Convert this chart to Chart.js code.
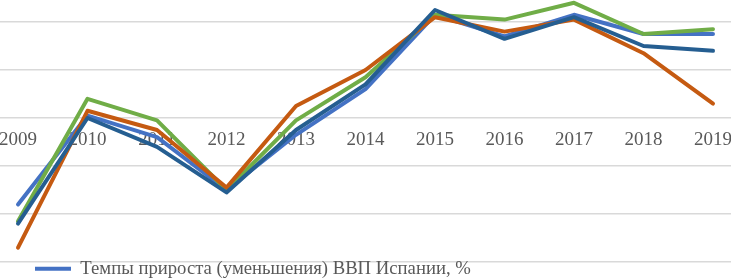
<!DOCTYPE html>
<html lang="ru">
<head>
<meta charset="utf-8">
<title>Темпы прироста ВВП Испании</title>
<script src="https://cdn.jsdelivr.net/npm/chart.js@4.4.1/dist/chart.umd.min.js"></script>
<style>
  html, body { margin: 0; padding: 0; background: #fff; overflow: hidden; }
  #wrap { position: relative; width: 731px; height: 280px; overflow: hidden; }
  canvas { position: absolute; left: 0; top: 0; }
</style>
</head>
<body>
<div id="wrap"><canvas id="gdpChart" width="731" height="313"></canvas></div>
<script>
// Годы (категории)
const years = [2009, 2010, 2011, 2012, 2013, 2014, 2015, 2016, 2017, 2018, 2019];

// Значения рядов, %
const gdpSpain = [-3.6, 0.1, -0.8, -3.0, -0.7, 1.2, 4.3, 3.4, 4.3, 3.5, 3.5];
const series2 = [-4.4, 0.0, -1.2, -3.1, -0.5, 1.4, 4.5, 3.3, 4.2, 3.0, 2.8];
const series3 = [-4.3, 0.8, -0.1, -3.0, -0.1, 1.7, 4.3, 4.1, 4.8, 3.5, 3.7];
const series4 = [-5.4, 0.3, -0.5, -2.9, 0.5, 2.0, 4.2, 3.6, 4.1, 2.7, 0.6];

// Линии сетки по оси значений
const gridValues = [-6, -4, -2, 0, 2, 4];

const seriesNames = ['Темпы прироста (уменьшения) ВВП Испании, %', 'Ряд 2', 'Ряд 3', 'Ряд 4'];
const seriesColors = ['#4472C4', '#255E91', '#70AD47', '#C55A11'];
const seriesData = [gdpSpain, series2, series3, series4];
const drawOrder = [4, 1, 3, 2]; // меньше — выше

const toPoints = vals => years.map((yr, i) => ({ x: yr, y: vals[i] }));

const ctx = document.getElementById('gdpChart');

new Chart(ctx, {
  type: 'line',
  data: {
    datasets: seriesData.map((vals, i) => ({
      label: seriesNames[i],
      data: toPoints(vals),
      borderColor: seriesColors[i],
      backgroundColor: seriesColors[i],
      borderWidth: 4,
      borderJoinStyle: 'round',
      borderCapStyle: 'round',
      pointRadius: 0,
      tension: 0,
      clip: false,
      order: drawOrder[i]
    }))
  },
  options: {
    responsive: false,
    animation: false,
    layout: { padding: 0 },
    plugins: {
      tooltip: { enabled: false },
      legend: {
        position: 'chartArea',
        align: 'end',
        labels: {
          filter: item => item.datasetIndex === 0,
          usePointStyle: true,
          pointStyle: 'line',
          pointStyleWidth: 36,
          padding: 35,
          color: '#595959',
          font: { family: 'Liberation Serif', size: 18.7 }
        }
      }
    },
    scales: {
      x: {
        type: 'linear',
        position: { y: 0 },
        min: 2008.741,
        max: 2019.259,
        afterBuildTicks: scale => { scale.ticks = years.map(v => ({ value: v })); },
        // подписи крайних лет не должны сужать область построения
        afterFit: scale => { scale.paddingLeft = 0; scale.paddingRight = 0; },
        grid: { display: false, drawTicks: false },
        border: { display: false },
        ticks: {
          padding: 11,
          maxRotation: 0,
          autoSkip: false,
          color: '#595959',
          font: { family: 'Liberation Serif', size: 19 },
          callback: v => String(v)
        }
      },
      y: {
        type: 'linear',
        min: -8.125,
        max: 4.9167,
        afterBuildTicks: scale => { scale.ticks = gridValues.map(v => ({ value: v })); },
        grid: { color: '#D9D9D9', lineWidth: 1.5, drawTicks: false },
        border: { display: false },
        ticks: { display: false }
      }
    }
  }
});
</script>
</body>
</html>
